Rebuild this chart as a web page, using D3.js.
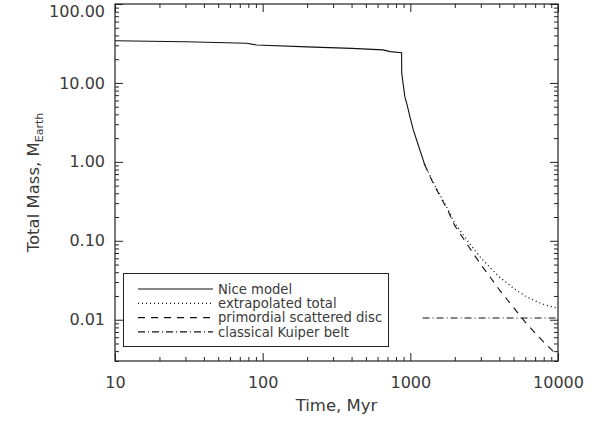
<!DOCTYPE html>
<html>
<head>
<meta charset="utf-8">
<script src="https://cdn.jsdelivr.net/npm/d3@7"></script>
<style>
  body { margin: 0; background: #fff; }
  text { font-family: "DejaVu Sans", sans-serif; fill: #3a3a3a; }
</style>
</head>
<body>
<div id="chart"></div>
<script>
// Nice model (solid)
var niceTime = [10, 30, 78, 91, 200, 400, 653, 730, 873, 874, 895, 918, 950, 1000, 1048, 1100, 1222, 1250];
var niceMass = [34.3, 33.2, 31.8, 30.3, 28.6, 27.4, 26.2, 24.9, 24.2, 13.4, 9.6, 6.7, 5.3, 3.56, 2.54, 1.92, 1.06, 0.92];

// extrapolated total (dotted) and primordial scattered disc (dashed)
var extTime = [1250, 1400, 1600, 1800, 2000, 2500, 3000, 3500, 4000, 5000, 6000, 7000, 8000, 9000, 10000];
var extTotal = [0.93, 0.59, 0.37, 0.25, 0.166, 0.094, 0.061, 0.045, 0.035, 0.025, 0.020, 0.0173, 0.0157, 0.0147, 0.014];
var scatMass = [0.92, 0.58, 0.36, 0.24, 0.155, 0.083, 0.050, 0.034, 0.024, 0.0143, 0.0093, 0.0068, 0.0052, 0.0042, 0.0035];

// classical Kuiper belt (dash-dot)
var kbTime = [1210, 10000];
var kbMass = [0.0105, 0.0105];

var xMajor = [10, 100, 1000, 10000];
var yMajor = [100, 10, 1, 0.1, 0.01];

var legendLabels = ["Nice model", "extrapolated total", "primordial scattered disc", "classical Kuiper belt"];

var svgWidth = 606, svgHeight = 424;
var margin = {top: 4, right: 48, bottom: 63, left: 115};
var width = svgWidth - margin.left - margin.right;
var height = svgHeight - margin.top - margin.bottom;

var svg = d3.select("#chart").append("svg")
  .attr("width", svgWidth)
  .attr("height", svgHeight);

var g = svg.append("g")
  .attr("transform", `translate(${margin.left}, ${margin.top})`);

var x = d3.scaleLog().domain([10, 10000]).range([0, width]);
var y = d3.scaleLog().domain([0.003, 100]).range([height, 0]);

// minor ticks 2..9 in each decade
function minorTicks(lo, hi) {
  var out = [];
  for (var d = lo; d < hi; d *= 10) {
    for (var k = 2; k <= 9; k++) {
      if (d * k <= hi) out.push(d * k);
    }
  }
  return out;
}
var xMinor = minorTicks(10, 10000);
var yMinor = minorTicks(0.001, 100).filter(v => v >= 0.003);

function styleAxis(sel) {
  sel.select(".domain").remove();
  sel.selectAll(".tick line").attr("stroke", "#222").attr("stroke-width", 1);
  sel.selectAll(".tick text").attr("fill", "#3a3a3a").attr("font-size", 16).attr("font-family", "DejaVu Sans");
}

// bottom axis
g.append("g").attr("transform", `translate(0, ${height})`)
  .call(d3.axisBottom(x).tickValues(xMajor).tickSize(-8).tickPadding(16).tickFormat(d3.format("d")))
  .call(styleAxis);
g.append("g").attr("transform", `translate(0, ${height})`)
  .call(d3.axisBottom(x).tickValues(xMinor).tickSize(-4).tickFormat(""))
  .call(styleAxis);
// top axis
g.append("g")
  .call(d3.axisTop(x).tickValues(xMajor).tickSize(-8).tickFormat(""))
  .call(styleAxis);
g.append("g")
  .call(d3.axisTop(x).tickValues(xMinor).tickSize(-4).tickFormat(""))
  .call(styleAxis);

// left axis
var yAx = g.append("g")
  .call(d3.axisLeft(y).tickValues(yMajor).tickSize(-8).tickPadding(10).tickFormat(d3.format(".2f")))
  .call(styleAxis);
// keep top label inside the picture
yAx.selectAll(".tick").filter(d => d === 100).select("text").attr("y", 7);
g.append("g")
  .call(d3.axisLeft(y).tickValues(yMinor).tickSize(-4).tickFormat(""))
  .call(styleAxis);
// right axis
g.append("g").attr("transform", `translate(${width}, 0)`)
  .call(d3.axisRight(y).tickValues(yMajor).tickSize(-8).tickFormat(""))
  .call(styleAxis);
g.append("g").attr("transform", `translate(${width}, 0)`)
  .call(d3.axisRight(y).tickValues(yMinor).tickSize(-4).tickFormat(""))
  .call(styleAxis);

// frame
g.append("rect")
  .attr("width", width).attr("height", height)
  .attr("fill", "none").attr("stroke", "#222").attr("stroke-width", 1.2);

// axis titles
svg.append("text")
  .attr("x", margin.left + width / 2)
  .attr("y", 411)
  .attr("text-anchor", "middle")
  .attr("font-size", 16.5)
  .text("Time, Myr");

var yTitle = svg.append("text")
  .attr("transform", `translate(39, ${margin.top + height / 2}) rotate(-90)`)
  .attr("text-anchor", "middle")
  .attr("font-size", 16.5);
yTitle.append("tspan").text("Total Mass, M");
yTitle.append("tspan").attr("font-size", 11).attr("dy", 4).text("Earth");

// lines
var line = d3.line().x(d => x(d[0])).y(d => y(d[1]));

var styles = [
  {dash: null},
  {dash: "1,3"},
  {dash: "7,6"},
  {dash: "7,3,1,3"}
];

var series = [
  d3.zip(niceTime, niceMass),
  d3.zip(extTime, extTotal),
  d3.zip(extTime, scatMass),
  d3.zip(kbTime, kbMass)
];

var plot = g.append("g");
series.forEach(function(s, i) {
  plot.append("path")
    .datum(s)
    .attr("d", line)
    .attr("fill", "none")
    .attr("stroke", "#111")
    .attr("stroke-width", i === 1 ? 1.3 : 1.1)
    .attr("stroke-dasharray", styles[i].dash);
});

// legend
var legend = svg.append("g");
legend.append("rect")
  .attr("x", 123.5).attr("y", 273.5)
  .attr("width", 265).attr("height", 73)
  .attr("fill", "#fff").attr("stroke", "#222").attr("stroke-width", 1);

legendLabels.forEach(function(lab, i) {
  var ly = 289 + i * 14.3;
  legend.append("line")
    .attr("x1", 138).attr("x2", 213)
    .attr("y1", ly).attr("y2", ly)
    .attr("stroke", "#111")
    .attr("stroke-width", i === 1 ? 1.3 : 1.1)
    .attr("stroke-dasharray", styles[i].dash);
  legend.append("text")
    .attr("x", 218).attr("y", ly)
    .attr("dy", "0.35em")
    .attr("font-size", 13.2)
    .text(lab);
});
</script>
</body>
</html>
